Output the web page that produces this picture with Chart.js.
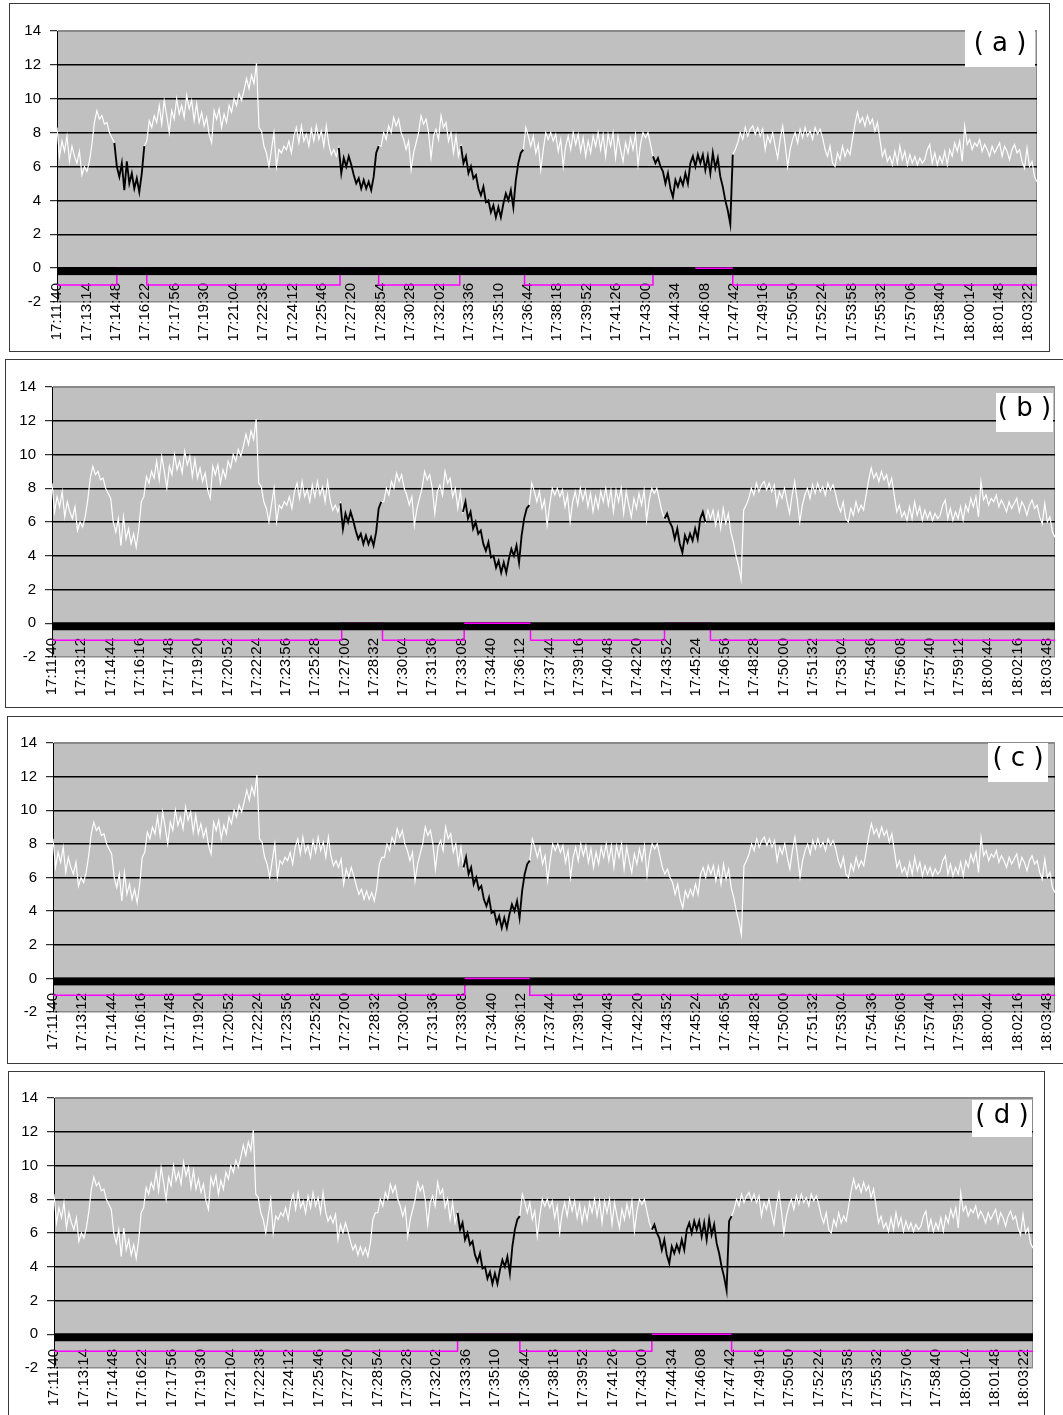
<!DOCTYPE html>
<html><head><meta charset="utf-8">
<script src="https://cdn.jsdelivr.net/npm/chart.js@4.4.1/dist/chart.umd.min.js"></script>
<style>
html,body{margin:0;padding:0;background:#fff;}
body{position:relative;width:1063px;height:1415px;overflow:hidden;}
.panel{position:absolute;box-sizing:border-box;border:1px solid #3a3a3a;pointer-events:none;z-index:2;}
canvas{position:absolute;z-index:1;}
.tag{position:absolute;background:#fff;font-family:"DejaVu Sans",sans-serif;font-size:26px;line-height:28px;color:#000;white-space:pre;text-align:center;z-index:3;}
</style></head><body>
<script>
// ---- DATA ----
// Signal (one reading per sample, evenly spaced over the record)
const signal = [
8.3,6.6,7.5,6.9,7.8,6.3,7.2,6.6,6.2,6.9,
5.5,6.0,5.7,6.3,7.3,8.6,9.3,8.8,9.0,8.5,
8.6,8.0,7.7,7.4,6.0,5.4,6.2,4.6,6.3,5.0,
5.6,4.7,5.3,4.5,5.6,7.2,7.5,8.7,8.3,9.0,
8.6,9.6,8.5,9.9,9.0,8.0,9.3,8.8,10.0,9.1,
9.6,8.9,10.2,9.4,9.9,8.7,9.7,8.6,9.2,8.4,
8.9,7.9,7.4,9.3,8.8,9.4,8.3,9.1,8.6,9.6,
9.2,10.0,9.6,10.3,9.9,10.5,11.2,10.6,11.4,10.9,
12.1,8.3,8.1,7.2,6.8,6.0,7.0,8.0,6.0,7.0,
6.8,7.2,7.0,7.5,6.8,7.8,8.3,7.4,8.4,7.5,
7.9,7.2,8.2,7.5,8.4,7.6,8.1,7.2,8.4,7.3,
6.7,7.0,6.6,7.1,5.6,6.5,6.0,6.6,6.1,5.5,
5.0,5.3,4.7,5.2,4.7,5.1,4.6,5.4,6.8,7.2,
7.2,8.0,7.6,8.4,8.0,8.9,8.4,8.8,8.0,7.6,
7.0,7.5,5.8,6.8,7.4,8.0,9.0,8.5,8.8,8.0,
6.5,7.8,8.2,7.6,9.0,8.3,8.6,7.5,8.0,6.8,
7.8,6.6,7.2,6.2,6.6,5.6,6.0,5.3,5.5,4.7,
4.3,4.8,3.9,4.0,3.3,3.7,3.0,3.6,3.0,3.8,
4.4,4.0,4.6,3.6,5.2,6.2,6.8,7.0,8.3,7.8,
7.2,7.8,6.8,7.3,5.8,7.0,8.0,7.6,8.0,7.5,
7.9,6.9,7.6,6.0,7.2,7.8,7.0,8.0,7.3,7.9,
6.9,7.7,6.6,7.5,6.8,7.8,7.2,8.0,7.0,7.9,
6.6,7.9,7.2,8.0,6.5,7.8,7.0,6.3,7.4,6.8,
7.7,7.0,7.9,6.1,7.3,8.0,7.7,8.0,7.3,6.6,
6.2,6.5,6.0,5.7,5.0,5.6,4.7,4.2,5.2,4.8,
5.3,4.9,5.6,5.0,6.2,6.6,6.0,6.7,6.2,6.7,
5.8,6.6,5.6,6.8,5.9,6.5,5.4,4.8,4.0,3.4,
2.6,6.7,7.0,7.4,8.0,7.6,8.3,7.8,8.2,8.4,
7.9,8.3,7.8,8.2,7.0,7.8,7.4,8.0,7.2,6.5,
7.6,8.4,7.3,6.0,7.0,7.6,8.0,7.4,8.2,7.7,
8.3,7.8,8.1,7.6,8.3,7.9,8.2,7.7,7.0,6.6,
7.2,6.2,6.0,6.8,6.4,7.2,6.6,7.0,6.7,7.6,
8.5,9.2,8.6,8.9,8.4,9.0,8.5,8.8,8.1,8.6,
7.6,6.6,7.0,6.3,6.6,6.1,6.9,6.2,7.2,6.4,
6.9,6.1,6.7,6.2,6.6,6.1,6.5,6.2,6.4,7.0,
7.3,6.2,6.8,6.1,6.6,6.2,6.9,6.1,7.0,6.6,
7.4,6.9,7.5,6.3,8.4,7.3,7.6,7.0,7.4,7.2,
7.6,6.9,7.3,7.0,6.6,7.2,6.8,7.1,7.4,6.6,
7.2,6.9,6.4,7.0,7.3,6.8,7.0,6.3,5.9,7.1,
6.0,6.3,5.4,5.1
];

const ticksA = ['17:11:40','17:13:14','17:14:48','17:16:22','17:17:56','17:19:30','17:21:04','17:22:38','17:24:12','17:25:46','17:27:20','17:28:54','17:30:28','17:32:02','17:33:36','17:35:10','17:36:44','17:38:18','17:39:52','17:41:26','17:43:00','17:44:34','17:46:08','17:47:42','17:49:16','17:50:50','17:52:24','17:53:58','17:55:32','17:57:06','17:58:40','18:00:14','18:01:48','18:03:22'];
const ticksB = ['17:11:40','17:13:12','17:14:44','17:16:16','17:17:48','17:19:20','17:20:52','17:22:24','17:23:56','17:25:28','17:27:00','17:28:32','17:30:04','17:31:36','17:33:08','17:34:40','17:36:12','17:37:44','17:39:16','17:40:48','17:42:20','17:43:52','17:45:24','17:46:56','17:48:28','17:50:00','17:51:32','17:53:04','17:54:36','17:56:08','17:57:40','17:59:12','18:00:44','18:02:16','18:03:48'];
const yTicks = [-2,0,2,4,6,8,10,12,14];

// record length (seconds) shown on each panel's time axis
const spanA = 3130, spanB = 3154, spanC = 3154, spanD = 3130;

// highlighted (black) sample ranges, by sample index
const blackA = [[23,35],[113,129],[162,187],[239,271]];
const blackB = [[113,129],[161,187],[240,256]];
const blackC = [[161,187]];
const blackD = [[162,187],[240,272]];

// magenta detection flag: ranges (sample index) where it is at 0, else -1
const gateA = [[24,36],[113.5,129],[161.5,187.5],[239,271]];
const gateB = [[113.5,129.5],[161.5,187.5],[240,258]];
const gateC = [[161.5,187]];
const gateD = [[162,187],[240,272]];
// parts of the flag at 0 that are drawn above the axis band
const gateTopA = [[256,271]];
const gateTopB = [[161.5,187.5]];
const gateTopC = [[161.5,187]];
const gateTopD = [[240,272]];

const tags = {a:'( a )', b:'( b )', c:'( c )', d:'( d )'};

// ---- LAYOUT ----
const layouts = {
  a:{box:[9,3,1041,349],   plot:[57,31,1037,302],   tag:[965,28,70,39]},
  b:{box:[5,359,1066,349], plot:[52,387,1055,657],  tag:[996,393,57,39]},
  c:{box:[7,716,1064,348], plot:[53,743,1055,1012], tag:[988,743,60,39]},
  d:{box:[8,1071,1037,352],plot:[54,1098,1033,1368],tag:[972,1100,60,37]}
};

const toSec = s => { const [h,m,x] = s.split(':').map(Number); return h*3600+m*60+x; };

const bgPlugin = {
  id:'bg',
  beforeDraw(chart){
    const {ctx, chartArea:a} = chart;
    ctx.save();
    ctx.fillStyle = '#c0c0c0';
    ctx.fillRect(a.left, a.top, a.right-a.left, a.bottom-a.top);
    ctx.strokeStyle = '#8a8a8a'; ctx.lineWidth = 1;
    ctx.strokeRect(a.left+0.5, a.top+0.5, a.right-a.left-1, a.bottom-a.top-1);
    ctx.restore();
  }
};
const bandPlugin = {
  id:'band',
  afterDatasetDraw(chart, args){
    if (chart.data.datasets[args.index].label !== 'gate') return;
    const {ctx, chartArea:a, scales:{y}} = chart;
    const y0 = y.getPixelForValue(0);
    ctx.save();
    ctx.fillStyle = '#000';
    ctx.fillRect(a.left, y0 - 1, a.right - a.left, 8);
    ctx.restore();
  }
};

const FONT = '"Liberation Sans", Arial, sans-serif';

function makePanel(key, p){
  const L = layouts[key];
  const [bx,by,bw,bh] = L.box;
  const [pl,pt,pr,pb] = L.plot;
  const frame = document.createElement('div');
  frame.className = 'panel';
  Object.assign(frame.style,{left:bx+'px',top:by+'px',width:bw+'px',height:bh+'px'});
  document.body.appendChild(frame);
  const canvas = document.createElement('canvas');
  canvas.width = bw; canvas.height = bh;
  Object.assign(canvas.style,{left:bx+'px',top:by+'px',width:bw+'px',height:bh+'px'});
  document.body.appendChild(canvas);
  const tg = document.createElement('div');
  tg.className = 'tag'; tg.textContent = tags[key];
  const [tx,ty,tw,th] = L.tag;
  Object.assign(tg.style,{left:tx+'px',top:ty+'px',width:tw+'px',height:th+'px'});
  document.body.appendChild(tg);

  const n = signal.length;
  const xAt = i => i * p.span / (n-1);
  const inRange = (i, r) => r.some(([s,e]) => i >= s && i <= e);
  const white = signal.map((v,i) => ({x:xAt(i), y:v}));
  const black = signal.map((v,i) => ({x:xAt(i), y: inRange(i,p.black) ? v : null}));
  const gate = [{x:0, y:-1}];
  p.gate.forEach(([s,e]) => { gate.push({x:xAt(s), y:0}); gate.push({x:xAt(e), y:-1}); });
  gate.push({x:xAt(n-1), y:-1});
  const top = [];
  p.gateTop.forEach(([s,e]) => { top.push({x:xAt(s),y:0},{x:xAt(e),y:0},{x:xAt(e),y:null}); });
  const base = toSec(p.ticks[0]);
  const tickVals = p.ticks.map(t => toSec(t) - base);

  new Chart(canvas, {
    type:'line',
    data:{datasets:[
      {label:'black', data:black, borderColor:'#000', borderWidth:1.9, pointRadius:0, order:0, spanGaps:false, tension:0},
      {label:'white', data:white, borderColor:'#fff', borderWidth:1.2, pointRadius:0, order:1, tension:0},
      {label:'gateTop', data:top, borderColor:'#ff00ff', borderWidth:1.5, pointRadius:0, order:2, spanGaps:false},
      {label:'gate', data:gate, borderColor:'#ff00ff', borderWidth:1.5, pointRadius:0, stepped:true, order:3}
    ]},
    options:{
      responsive:false, animation:false, devicePixelRatio:1,
      layout:{padding:{left:0, top:pt-by, right:(bx+bw)-pr, bottom:(by+bh)-pb}},
      plugins:{legend:{display:false}, tooltip:{enabled:false}},
      scales:{
        x:{
          type:'linear', min:0, max:p.span,
          position:{y:-2},
          afterBuildTicks: ax => { ax.ticks = tickVals.map(v => ({value:v})); },
          afterFit: ax => { ax.height = 0; },
          grid:{display:false, drawTicks:false},
          border:{display:false},
          ticks:{autoSkip:false, maxRotation:90, minRotation:90, padding:-19, color:'#000',
                 font:{family:FONT, size:15}, callback:(v,i) => p.ticks[i]}
        },
        y:{
          min:-2, max:14,
          afterBuildTicks: ax => { ax.ticks = yTicks.map(v => ({value:v})); },
          afterFit: ax => { ax.width = pl - bx; },
          grid:{
            color: c => (c.tick && (c.tick.value === 14 || c.tick.value === -2)) ? '#8a8a8a' : '#000',
            lineWidth:1.4, drawTicks:true, tickLength:7, tickColor:'#000', tickWidth:1
          },
          border:{display:true, color:'#000', width:1},
          ticks:{padding:9, color:'#000', font:{family:FONT, size:15}}
        }
      }
    },
    plugins:[bgPlugin, bandPlugin]
  });
}

makePanel('a', {span:spanA, ticks:ticksA, black:blackA, gate:gateA, gateTop:gateTopA});
makePanel('b', {span:spanB, ticks:ticksB, black:blackB, gate:gateB, gateTop:gateTopB});
makePanel('c', {span:spanC, ticks:ticksB, black:blackC, gate:gateC, gateTop:gateTopC});
makePanel('d', {span:spanD, ticks:ticksA, black:blackD, gate:gateD, gateTop:gateTopD});
</script>
</body></html>
